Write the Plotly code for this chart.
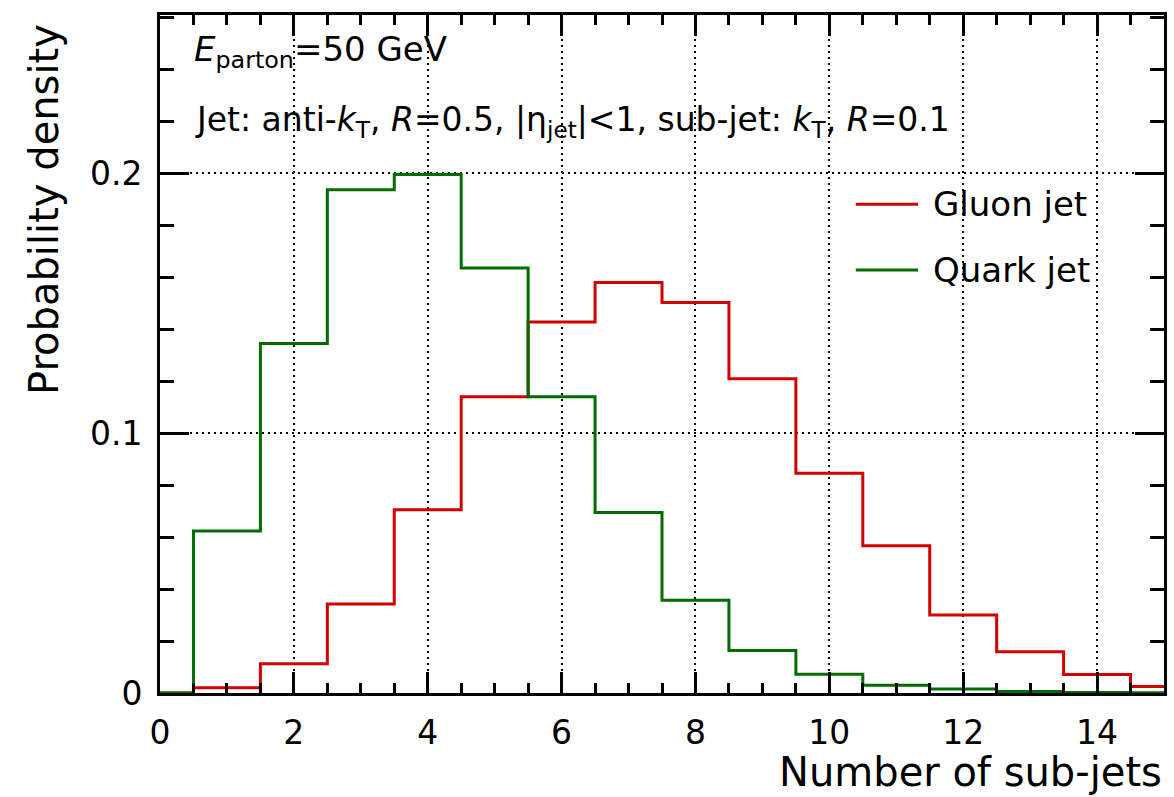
import plotly.graph_objects as go

# Sub-jet multiplicity, one value per integer bin (bin centres 0..15)
n_subjets = list(range(0, 16))
gluon_density = [0.0, 0.0020, 0.0113, 0.0343, 0.0705, 0.1140, 0.1428, 0.1580,
                 0.1503, 0.1210, 0.0846, 0.0567, 0.0300, 0.0159, 0.0071, 0.0025]
quark_density = [0.0, 0.0624, 0.1345, 0.1937, 0.1996, 0.1636, 0.1140, 0.0695,
                 0.0357, 0.0164, 0.0072, 0.0030, 0.0015, 0.0006, 0.0002, 0.0001]

x_ticks = [0, 2, 4, 6, 8, 10, 12, 14]
y_ticks = [0, 0.1, 0.2]
y_tick_labels = ["0", "0.1", "0.2"]

series_names = ["Gluon jet", "Quark jet"]

FONT = "DejaVu Sans"
RED = "#d20000"
GREEN = "#006c00"


def step_outline(centres, values):
    """Bin edges and heights for an 'hv' step line of a unit-width histogram."""
    edges = [c - 0.5 for c in centres] + [centres[-1] + 0.5]
    heights = list(values) + [values[-1]]
    return edges, heights


fig = go.Figure()
for name, vals, col in zip(series_names, [gluon_density, quark_density], [RED, GREEN]):
    ex, ey = step_outline(n_subjets, vals)
    fig.add_trace(go.Scatter(
        x=ex, y=ey, mode="lines", name=name, showlegend=False,
        line=dict(color=col, width=3, shape="hv"),
    ))

axis_common = dict(
    showline=True, linewidth=3, linecolor="black", mirror="allticks",
    ticks="inside", tickcolor="black", tickwidth=3,
    showgrid=True, gridcolor="black", gridwidth=1.5, griddash="2px,4px",
    zeroline=False,
    tickfont=dict(family=FONT, size=33, color="black"),
    ticklabelstandoff=8,
)

fig.update_xaxes(
    range=[0, 15], tickvals=x_ticks, ticklen=21,
    minor=dict(dtick=0.5, ticklen=10, ticks="inside", tickcolor="black",
               tickwidth=3, showgrid=False),
    **axis_common,
)
fig.update_yaxes(
    range=[0, 0.261], tickvals=y_ticks, ticktext=y_tick_labels, ticklen=29,
    minor=dict(dtick=0.02, ticklen=14, ticks="inside", tickcolor="black",
               tickwidth=3, showgrid=False),
    **axis_common,
)

# Axis titles, aligned to the far ends of the axes
fig.add_annotation(
    text="Number of sub-jets", xref="paper", yref="paper",
    x=1.0, y=-0.080, xanchor="right", yanchor="top", showarrow=False,
    font=dict(family=FONT, size=40, color="black"),
)
fig.add_annotation(
    text="Probability density", xref="paper", yref="paper",
    x=-0.09, y=0.99, xanchor="right", yanchor="top", textangle=-90,
    showarrow=False, font=dict(family=FONT, size=40, color="black"),
)

# Labels describing the jet selection
fig.add_annotation(
    text="<i>E</i><sub>parton</sub>=50 GeV", xref="paper", yref="paper",
    x=0.032, y=0.983, xanchor="left", yanchor="top", showarrow=False,
    font=dict(family=FONT, size=34, color="black"),
)
fig.add_annotation(
    text=("Jet: anti-<i>k</i><sub>T</sub>, <i>R</i>=0.5, |η<sub>jet</sub>|&lt;1, "
          "sub-jet: <i>k</i><sub>T</sub>, <i>R</i>=0.1"),
    xref="paper", yref="paper",
    x=0.033, y=0.878, xanchor="left", yanchor="top", showarrow=False,
    font=dict(family=FONT, size=33, color="black"),
)

# Legend: sample line plus label for each series
legend_y = [0.721, 0.624]
for name, col, ly in zip(series_names, [RED, GREEN], legend_y):
    fig.add_shape(type="line", xref="paper", yref="paper",
                  x0=0.693, x1=0.755, y0=ly, y1=ly,
                  line=dict(color=col, width=3))
    fig.add_annotation(
        text=name, xref="paper", yref="paper", x=0.768, y=ly,
        xanchor="left", yanchor="middle", showarrow=False,
        font=dict(family=FONT, size=34, color="black"),
    )

fig.update_layout(
    width=1174, height=797,
    margin=dict(l=160, r=7, t=15, b=104),
    paper_bgcolor="white", plot_bgcolor="white",
    showlegend=False,
)

fig.write_html("out.html")
